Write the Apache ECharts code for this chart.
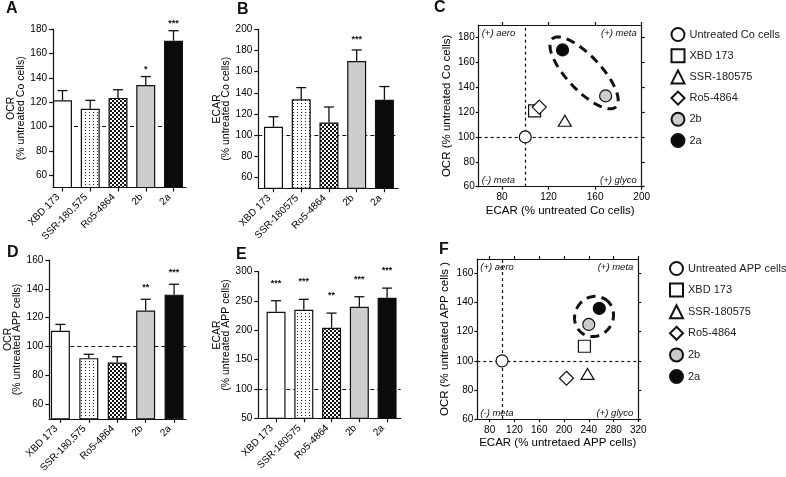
<!DOCTYPE html>
<html><head><meta charset="utf-8">
<script src="https://cdn.jsdelivr.net/npm/echarts@6/dist/echarts.min.js"></script>
<style>html,body{margin:0;padding:0;background:#fff}#c{width:786px;height:477px}</style>
</head><body><div id="c"></div>
<script>
// ---------- DATA ----------
const catsCo  = ['XBD 173', 'SSR-180,575', 'Ro5-4864', '2b', '2a'];
const catsEcarCo = ['XBD 173', 'SSR-180575', 'Ro5-4864', '2b', '2a'];
const catsApp = ['XBD 173', 'SSR-180,575', 'Ro5-4864', '2b', '2a'];
const catsEcarApp = ['XBD 173', 'SSR-180575', 'Ro5-4864', '2b', '2a'];

const ocrCoMean  = [121.5, 114.5, 123.5, 134, 170.4];
const ocrCoTop   = [129.5, 121.5, 130.2, 141, 178.6];
const ocrCoStars = ['', '', '', '*', '***'];

const ecarCoMean  = [108, 134, 112, 170, 133.5];
const ecarCoTop   = [117.5, 145, 126.7, 180.5, 146];
const ecarCoStars = ['', '', '', '***', ''];

const ocrAppMean  = [111, 92, 89, 125, 136];
const ocrAppTop   = [115.4, 94.7, 93, 132.8, 143.2];
const ocrAppStars = ['', '', '', '**', '***'];

const ecarAppMean  = [231.7, 235.2, 204.5, 240.3, 255.5];
const ecarAppTop   = [250.5, 252.9, 229.4, 257.3, 272];
const ecarAppStars = ['***', '***', '**', '***', '***'];

// scatter (ECAR, OCR)
const scNamesCo  = ['Untreated Co cells', 'XBD 173', 'SSR-180575', 'Ro5-4864', '2b', '2a'];
const scNamesApp = ['Untreated APP cells', 'XBD 173', 'SSR-180575', 'Ro5-4864', '2b', '2a'];
const scEcarCo = [100, 108, 134, 112, 169, 132];
const scOcrCo  = [100, 121, 113, 124, 133, 170];
const scEcarApp = [100, 233, 238, 204, 240, 257];
const scOcrApp  = [100, 110, 91, 88, 125, 136];

// tick labels
const ticksA = [60, 80, 100, 120, 140, 160, 180];
const ticksB = [60, 80, 100, 120, 140, 160, 180, 200];
const ticksD = [60, 80, 100, 120, 140, 160];
const ticksE = [50, 100, 150, 200, 250, 300];
const ticksCx = [80, 120, 160, 200];
const ticksCy = [60, 80, 100, 120, 140, 160, 180];
const ticksFx = [80, 120, 160, 200, 240, 280, 320];
const ticksFy = [60, 80, 100, 120, 140, 160];
const quadTexts = ['(+) aero', '(+) meta', '(-) meta', '(+) glyco'];

// ---------- STYLE HELPERS ----------
const FONT = '"Liberation Sans", Arial, sans-serif';
const INK = '#111';
function pattern(w, h, bg, fg, pts, size) {
  const c = document.createElement('canvas'); c.width = w; c.height = h;
  const g = c.getContext('2d'); g.fillStyle = bg; g.fillRect(0, 0, w, h);
  g.fillStyle = fg; pts.forEach(p => g.fillRect(p[0], p[1], size || 1, size || 1));
  return { image: c, repeat: 'repeat' };
}
const dotPat = pattern(4, 3, '#fff', '#222', [[1, 1]]);
const chkPat = pattern(4, 4, '#fff', '#111', [[0, 0], [2, 2]], 2);
const fills = ['#ffffff', dotPat, chkPat, '#cdcdcd', '#0b0b0b'];

const chart = echarts.init(document.getElementById('c'), null, { renderer: 'canvas' });

const barGeo = [
  { grid: { left: 53, top: 29, width: 133, height: 158.5 }, xmin: -0.342, xmax: 4.45, ymin: 50, ymax: 180, ticks: ticksA, cats: catsCo, mean: ocrCoMean, top: ocrCoTop, stars: ocrCoStars, gap: 3, name: 'OCR\n(% untreated Co cells)', nameGap: 21.5, pad: [0, 0, 0, 0] },
  { grid: { left: 258.3, top: 29.3, width: 139.7, height: 159 }, xmin: -0.548, xmax: 4.49, ymin: 50, ymax: 200, ticks: ticksB, cats: catsEcarCo, mean: ecarCoMean, top: ecarCoTop, stars: ecarCoStars, gap: 6, name: 'ECAR\n(% untreated Co cells)', nameGap: 20.5, pad: [0, 0, 0, 0] },
  { grid: { left: 49.3, top: 260, width: 136.7, height: 158.8 }, xmin: -0.39, xmax: 4.42, ymin: 50, ymax: 160, ticks: ticksD, cats: catsApp, mean: ocrAppMean, top: ocrAppTop, stars: ocrAppStars, gap: 7, name: 'OCR\n(% untreated APP cells)', nameGap: 22, pad: [0, 0, 0, 0] },
  { grid: { left: 258.3, top: 271.7, width: 142.4, height: 146.6 }, xmin: -0.64, xmax: 4.49, ymin: 50, ymax: 300, ticks: ticksE, cats: catsEcarApp, mean: ecarAppMean, top: ecarAppTop, stars: ecarAppStars, gap: 13, name: 'ECAR\n(% untreated APP cells)', nameGap: 16, pad: [0, 0, 0, 20] }
];

const grids = [], xAxes = [], yAxes = [], series = [];
const axLine = { show: true, lineStyle: { color: INK, width: 1.2 } };

barGeo.forEach((g, gi) => {
  grids.push(Object.assign({ outerBoundsMode: 'none', containLabel: false }, g.grid));
  xAxes.push({
    type: 'value', gridIndex: gi, min: g.xmin, max: g.xmax, axisLine: Object.assign({ onZero: false }, axLine),
    axisTick: { show: true, customValues: [0, 1, 2, 3, 4], length: 4, lineStyle: { color: INK, width: 1.2 } },
    axisLabel: { customValues: [0, 1, 2, 3, 4], formatter: v => g.cats[Math.round(v)], rotate: 45, fontSize: 10, color: '#000', margin: 4, padding: [0, 6, 0, 0], fontFamily: FONT },
    splitLine: { show: false }
  });
  yAxes.push({
    type: 'value', gridIndex: gi, min: g.ymin, max: g.ymax, axisLine: Object.assign({ onZero: false }, axLine),
    axisTick: { show: true, customValues: g.ticks, length: 4, lineStyle: { color: INK, width: 1.2 } },
    axisLabel: { customValues: g.ticks, fontSize: 10, color: '#000', margin: 6, fontFamily: FONT },
    splitLine: { show: false },
    name: g.name, nameLocation: 'middle', nameGap: g.nameGap,
    nameTextStyle: { fontSize: 10.5, lineHeight: 9.5, color: '#000', fontFamily: FONT, padding: g.pad }
  });
  series.push({
    type: 'bar', xAxisIndex: gi, yAxisIndex: gi, barWidth: 19, z: 3,
    data: g.mean.map((v, i) => ({ value: [i, v], itemStyle: { color: fills[i], borderColor: INK, borderWidth: 1.2 } })),
    markLine: {
      z: 1, silent: true, symbol: 'none', label: { show: false },
      lineStyle: { color: INK, type: [4, 3], width: 1 },
      data: [{ yAxis: 100 }]
    }
  });
  series.push({
    type: 'custom', xAxisIndex: gi, yAxisIndex: gi, z: 4, silent: true,
    data: g.mean.map((v, i) => [i, v, g.top[i]]),
    encode: { x: 0, y: [1, 2] },
    renderItem(params, api) {
      const i = api.value(0);
      const p0 = api.coord([i, api.value(1)]), p1 = api.coord([i, api.value(2)]);
      const st = g.stars[params.dataIndex];
      const ls = { stroke: INK, lineWidth: 1.3 };
      const ch = [
        { type: 'line', shape: { x1: p0[0], y1: p0[1], x2: p1[0], y2: p1[1] }, style: ls },
        { type: 'line', shape: { x1: p1[0] - 5, y1: p1[1], x2: p1[0] + 5, y2: p1[1] }, style: ls }
      ];
      if (st) ch.push({ type: 'text', style: { text: st, x: p1[0], y: p1[1] - g.gap, align: 'center', verticalAlign: 'bottom', font: 'bold 9px ' + FONT, fill: INK } });
      return { type: 'group', children: ch };
    }
  });
});

// ---------- SCATTER PANELS ----------
const scGeo = [
  { grid: { left: 478.7, top: 25, width: 163, height: 161.7 }, xmin: 60, xmax: 200, ymin: 60, ymax: 190, tx: ticksCx, ty: ticksCy,
    ex: scEcarCo, oy: scOcrCo, names: scNamesCo, xname: 'ECAR (% untreated Co cells)', yname: 'OCR (% untreated Co cells)', ell: [15, 17] },
  { grid: { left: 477.3, top: 259, width: 161, height: 160 }, xmin: 60, xmax: 320, ymin: 60, ymax: 170, tx: ticksFx, ty: ticksFy,
    ex: scEcarApp, oy: scOcrApp, names: scNamesApp, xname: 'ECAR (% untretaed APP cells)', yname: 'OCR (% untreated APP cells )', ell: [11, 19] }
];
const symbols = ['circle', 'rect', 'triangle', 'diamond', 'circle', 'circle'];
const symFill = ['#fff', '#fff', '#fff', '#fff', '#cccccc', '#0b0b0b'];
const symSize = [12, 12, [13, 11], 14, 12, 12];

scGeo.forEach((g, k) => {
  const gi = 4 + k;
  grids.push(Object.assign({ outerBoundsMode: 'none', containLabel: false }, g.grid));
  const tickStyle = { lineStyle: { color: INK, width: 1.2 }, length: 3 };
  xAxes[gi] = {
    type: 'value', gridIndex: gi, min: g.xmin, max: g.xmax, axisLine: Object.assign({ onZero: false }, axLine),
    axisTick: Object.assign({ show: true, customValues: g.tx }, tickStyle),
    axisLabel: { customValues: g.tx, fontSize: 10, color: '#000', margin: 6, fontFamily: FONT },
    splitLine: { show: false },
    name: g.xname, nameLocation: 'middle', nameGap: 18, nameTextStyle: { fontSize: 11.5, color: '#000', fontFamily: FONT }
  };
  yAxes[gi] = {
    type: 'value', gridIndex: gi, min: g.ymin, max: g.ymax, axisLine: Object.assign({ onZero: false }, axLine),
    axisTick: Object.assign({ show: true, customValues: g.ty }, tickStyle),
    axisLabel: { customValues: g.ty, fontSize: 10, color: '#000', margin: 4, fontFamily: FONT },
    splitLine: { show: false },
    name: g.yname, nameLocation: 'middle', nameGap: 26, nameTextStyle: { fontSize: 11.5, color: '#000', fontFamily: FONT }
  };
});
scGeo.forEach((g, k) => {
  const gi = 4 + k;
  const tickStyle = { lineStyle: { color: INK, width: 1.2 }, length: 3 };
  xAxes.push({
    type: 'value', gridIndex: gi, position: 'top', min: g.xmin, max: g.xmax, axisLine: Object.assign({ onZero: false }, axLine),
    axisTick: Object.assign({ show: true, customValues: g.tx }, tickStyle), axisLabel: { show: false }, splitLine: { show: false }
  });
  yAxes.push({
    type: 'value', gridIndex: gi, position: 'right', min: g.ymin, max: g.ymax, axisLine: Object.assign({ onZero: false }, axLine),
    axisTick: Object.assign({ show: true, customValues: g.ty }, tickStyle), axisLabel: { show: false }, splitLine: { show: false }
  });
  g.names.forEach((nm, i) => {
    const s = {
      type: 'scatter', name: nm, xAxisIndex: gi, yAxisIndex: gi, z: 4,
      symbol: symbols[i], symbolSize: symSize[i],
      itemStyle: { color: symFill[i], borderColor: INK, borderWidth: 1.2, opacity: 1 },
      data: [[g.ex[i], g.oy[i]]]
    };
    if (i === 0) s.markLine = {
      z: 1, silent: true, symbol: 'none', label: { show: false },
      lineStyle: { color: INK, type: [3, 3], width: 1.2 },
      data: [{ yAxis: 100 }, { xAxis: 100 }]
    };
    series.push(s);
  });
  series.push({
    type: 'custom', xAxisIndex: gi, yAxisIndex: gi, z: 5, silent: true,
    data: [[g.ex[4], g.oy[4], g.ex[5], g.oy[5]]],
    encode: { x: [0, 2], y: [1, 3] },
    renderItem(params, api) {
      const a = api.coord([api.value(0), api.value(1)]), b = api.coord([api.value(2), api.value(3)]);
      const cx = (a[0] + b[0]) / 2, cy = (a[1] + b[1]) / 2, dx = b[0] - a[0], dy = b[1] - a[1];
      const L = Math.hypot(dx, dy) / 2 + g.ell[0], S = g.ell[1], ang = Math.atan2(dy, dx);
      const pts = [];
      for (let t = 0; t <= 96; t++) {
        const th = t / 96 * Math.PI * 2, ex = L * Math.cos(th), ey = S * Math.sin(th);
        pts.push([cx + ex * Math.cos(ang) - ey * Math.sin(ang), cy + ex * Math.sin(ang) + ey * Math.cos(ang)]);
      }
      return { type: 'polygon', shape: { points: pts }, style: { fill: null, stroke: INK, lineWidth: 3, lineDash: [9, 6] } };
    }
  });
  series.push({
    type: 'custom', xAxisIndex: gi, yAxisIndex: gi, z: 5, silent: true,
    data: [[g.xmin, g.ymax], [g.xmax, g.ymax], [g.xmin, g.ymin], [g.xmax, g.ymin]],
    renderItem(params, api) {
      const i = params.dataIndex, p = api.coord([api.value(0), api.value(1)]);
      const right = i % 2 === 1, bottom = i >= 2;
      return { type: 'text', style: {
        text: quadTexts[i], x: p[0] + (right ? -5 : 3), y: p[1] + (bottom ? -6 : 8.5),
        align: right ? 'right' : 'left', verticalAlign: 'middle',
        font: 'italic 9.5px ' + FONT, fill: INK } };
    }
  });
});

const legendBase = {
  orient: 'vertical', itemWidth: 13, itemHeight: 13, selectedMode: false,
  textStyle: { fontSize: 11, color: '#222', fontFamily: FONT }
};

chart.setOption({
  animation: false,
  textStyle: { fontFamily: FONT },
  grid: grids, xAxis: xAxes, yAxis: yAxes, series: series,
  legend: [
    Object.assign({}, legendBase, { left: 665.5, top: 22, itemGap: 6.2, data: scNamesCo }),
    Object.assign({}, legendBase, { left: 664, top: 256, itemGap: 6.6, data: scNamesApp })
  ],
  graphic: [
    { type: 'text', left: 6, top: 1, style: { text: 'A', font: 'bold 16px ' + FONT, fill: INK } },
    { type: 'text', left: 237, top: 2, style: { text: 'B', font: 'bold 16px ' + FONT, fill: INK } },
    { type: 'text', left: 434, top: 0, style: { text: 'C', font: 'bold 16px ' + FONT, fill: INK } },
    { type: 'text', left: 7, top: 245, style: { text: 'D', font: 'bold 16px ' + FONT, fill: INK } },
    { type: 'text', left: 236, top: 247, style: { text: 'E', font: 'bold 16px ' + FONT, fill: INK } },
    { type: 'text', left: 439, top: 242, style: { text: 'F', font: 'bold 16px ' + FONT, fill: INK } }
  ]
});
</script>
</body></html>
